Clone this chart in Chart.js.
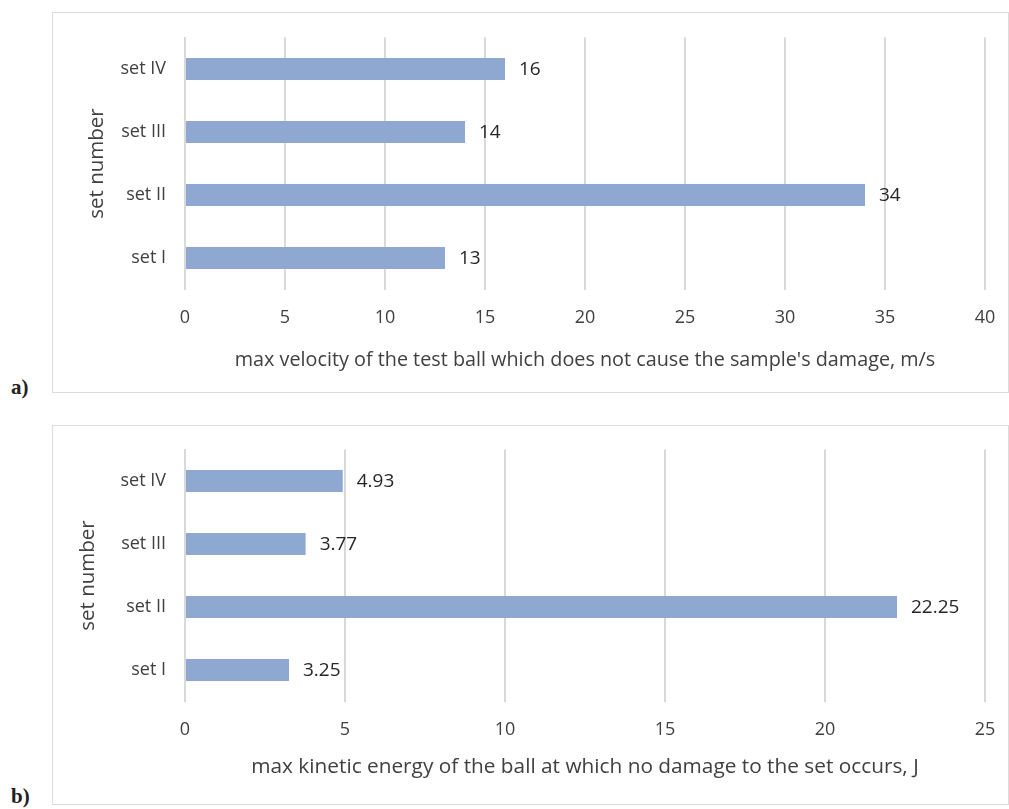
<!DOCTYPE html>
<html>
<head>
<meta charset="utf-8">
<script src="https://cdn.jsdelivr.net/npm/chart.js@4.4.1/dist/chart.umd.min.js"></script>
<style>
  body { margin:0; background:#fff; width:1009px; height:809px; position:relative; font-family:"Open Sans", sans-serif; }
  .box { position:absolute; border:1px solid #dcdcdc; box-sizing:border-box; }
  .cv { position:absolute; }
  .tag { position:absolute; font-family:"Liberation Serif", serif; font-weight:bold; font-size:21px; color:#222; }
</style>
</head>
<body>
<div class="box" style="left:52px;top:12px;width:957px;height:381px"></div>
<div class="cv" style="left:52px;top:12px;width:956px;height:380px"><canvas id="chA"></canvas></div>
<div class="tag" style="left:11px;top:375px">a)</div>

<div class="box" style="left:52px;top:425px;width:957px;height:380px"></div>
<div class="cv" style="left:52px;top:425px;width:956px;height:379px"><canvas id="chB"></canvas></div>
<div class="tag" style="left:11px;top:784px">b)</div>

<script>
// datos
const sets = ['set IV', 'set III', 'set II', 'set I'];
const velocity = [16, 14, 34, 13];
const energy = [4.93, 3.77, 22.25, 3.25];

const barColor = '#8fa8d1';
const txt = '#404040';
const FONT = "'Open Sans', sans-serif";

// etiquetas de valor a la derecha de cada barra
const valueLabels = {
  id: 'valueLabels',
  afterDatasetsDraw(chart) {
    const ctx = chart.ctx;
    const meta = chart.getDatasetMeta(0);
    ctx.save();
    ctx.font = '19px ' + FONT;
    ctx.fillStyle = '#262626';
    ctx.textBaseline = 'middle';
    ctx.textAlign = 'left';
    meta.data.forEach((bar, i) => {
      ctx.fillText(String(chart.data.datasets[0].data[i]), bar.x + 14, bar.y + 1);
    });
    ctx.restore();
  }
};

function makeChart(id, data, max, cfg) {
  return new Chart(document.getElementById(id), {
    type: 'bar',
    data: { labels: sets, datasets: [{ data, backgroundColor: barColor, barPercentage: 0.35, categoryPercentage: 1 }] },
    plugins: [valueLabels],
    options: {
      indexAxis: 'y', responsive: true, maintainAspectRatio: false, animation: false,
      layout: { padding: { top: cfg.top, right: 23, bottom: 0, left: 0 } },
      plugins: { legend: { display: false }, tooltip: { enabled: false } },
      scales: {
        x: {
          min: 0, max,
          ticks: { stepSize: 5, color: txt, font: { size: 18, family: FONT }, padding: cfg.tickPad },
          grid: { color: '#d9d9d9', lineWidth: 2, drawTicks: false },
          border: { display: false },
          title: { display: true, text: cfg.xTitle, color: txt, font: { size: cfg.titleSize, family: FONT }, padding: { top: 0, bottom: cfg.titlePad } },
          // tamaño fijo, sin el margen extra de las etiquetas
          afterFit: s => { s.height = cfg.xh; s.paddingLeft = 0; s.paddingRight = 0; }
        },
        y: {
          ticks: { color: txt, font: { size: 18, family: FONT }, padding: 19 },
          grid: { display: false, drawTicks: false },
          border: { display: true, color: '#d9d9d9', width: 2 },
          title: { display: true, text: 'set number', color: txt, font: { size: 20.5, family: FONT }, padding: { top: cfg.yPad } },
          afterFit: s => { s.width = 133; s.paddingTop = 0; s.paddingBottom = 0; }
        }
      }
    }
  });
}

makeChart('chA', velocity, 40, { xTitle: "max velocity of the test ball which does not cause the sample's damage, m/s", titleSize: 19.8, top: 25.5, xh: 102.5, tickPad: 18, titlePad: 20, yPad: 33 });
makeChart('chB', energy, 25, { xTitle: 'max kinetic energy of the ball at which no damage to the set occurs, J', titleSize: 20.8, top: 24.5, xh: 102.5, tickPad: 17.5, titlePad: 24, yPad: 24 });
</script>
</body>
</html>
